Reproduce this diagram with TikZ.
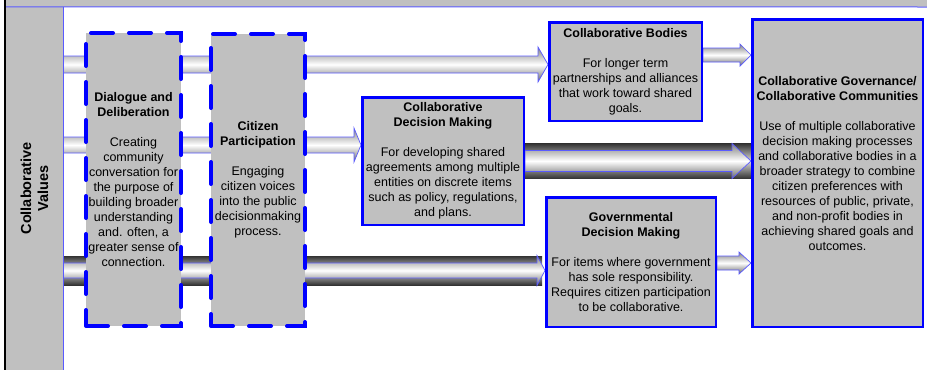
\documentclass[tikz,border=0pt]{standalone}
\usepackage{fontspec}
\setmainfont{Liberation Sans}
\usetikzlibrary{calc,backgrounds}
\definecolor{silver}{RGB}{192,192,192}
\definecolor{edge}{RGB}{0,0,255}
\definecolor{thinedge}{RGB}{90,90,255}
\tikzstyle{colbox}=[rectangle, fill=silver, draw=none, inner sep=0pt]
\tikzstyle{stagebox}=[rectangle, fill=silver, draw=edge, line width=4pt, dash pattern=on 22pt off 16pt, line cap=round, inner sep=0pt, align=center, font=\fontsize{12.5}{15}\selectfont]
\tikzstyle{outbox}=[rectangle, fill=silver, draw=edge, line width=2.5pt, inner sep=0pt, align=center, font=\fontsize{12.5}{15}\selectfont]
\tikzstyle{pipe}=[top color=black!50, bottom color=black!60, middle color=white, draw=thinedge, line width=0.7pt]
\tikzstyle{band}=[top color=black!80, bottom color=black!80, middle color=black!15]
% shaded fat arrow: style, from, to, half shaft, half head, head length
\newcommand{\fatarrow}[6]{%
  \path[#1] ($(#2)+(0,#4)$) -- ($(#3)+(-#6,#4)$) -- ($(#3)+(-#6,#5)$) -- (#3)
    -- ($(#3)+(-#6,-#5)$) -- ($(#3)+(-#6,-#4)$) -- ($(#2)+(0,-#4)$) -- cycle;}

\begin{document}
\begin{tikzpicture}[x=1pt,y=-1pt]
\useasboundingbox (0,0) rectangle (927,370);
%Frame
\fill[silver] (5,0) rectangle (927,7);
\node[colbox, minimum width=57pt, minimum height=363pt] (vals) at (34.5,188.5) {};
\node[rotate=90, align=center, font=\bfseries\fontsize{14.5}{17}\selectfont] (valtxt) at (vals.center) {Collaborative\\Values};
\draw[thinedge, line width=1pt] (vals.north west) -- (927,7);
\draw[thinedge, line width=1pt] (vals.north east) -- (vals.south east);
\draw[black, line width=2pt] (5,0) -- (5,370);

%Rows
\coordinate (r1) at (0,64.5);
\coordinate (r2) at (0,145);
\coordinate (r3) at (0,270.5);
\coordinate (r4) at (0,161);
\coordinate (r5) at (0,55);
\coordinate (r6) at (0,263);

%Stages
\node[stagebox, minimum width=95pt, minimum height=293pt] (dd) at (133.5,179.5) {\textbf{Dialogue and}\\\textbf{Deliberation}\\[15pt]Creating\\community\\conversation for\\the purpose of\\building broader\\understanding\\and. often, a\\greater sense of\\connection.};
\node[stagebox, minimum width=94pt, minimum height=292pt] (cp) at (258,180) {\textbf{Citizen}\\\textbf{Participation}\\[15pt]Engaging\\citizen voices\\into the public\\decisionmaking\\process.};

%Outcomes
\node[outbox, minimum width=152.5pt, minimum height=98.5pt] (cb) at (625.5,71.5) {\textbf{Collaborative Bodies}\\[15pt]For longer term\\partnerships and alliances\\that work toward shared\\goals.};
\node[outbox, minimum width=161.5pt, minimum height=127.5pt] (cdm) at (443,161) {\textbf{Collaborative}\\\textbf{Decision Making}\\[15pt]For developing shared\\agreements among multiple\\entities on discrete items\\such as policy, regulations,\\and plans.};
\node[outbox, minimum width=169.5pt, minimum height=129.5pt] (gdm) at (631,262) {\textbf{Governmental}\\\textbf{Decision Making}\\[15pt]For items where government\\has sole responsibility.\\Requires citizen participation\\to be collaborative.};
\node[outbox, minimum width=170.5pt, minimum height=307.5pt, text depth=19pt] (cg) at (837.5,173) {\textbf{Collaborative Governance/}\\\textbf{Collaborative Communities}\\[15pt]Use of multiple collaborative\\decision making processes\\and collaborative bodies in a\\broader strategy to combine\\citizen preferences with\\resources of public, private,\\and non-profit bodies in\\achieving shared goals and\\outcomes.};

%Arrows
\begin{scope}[on background layer]
\path[band] ($(vals.east |- r3)+(0,-14.5)$) rectangle ($(gdm.west |- r3)+(-3,14.5)$);
\path[band] ($(cdm.east |- r4)+(0,-17.5)$) rectangle ($(cg.west |- r4)+(0,17.5)$);
\fatarrow{pipe}{vals.east |- r1}{cb.west |- r1}{8.5}{17.5}{10}
\fatarrow{pipe}{vals.east |- r2}{cdm.west |- r2}{8}{17}{7}
\fatarrow{pipe}{vals.east |- r3}{gdm.west |- r3}{7.5}{15}{8}
\fatarrow{pipe}{cdm.east |- r4}{cg.west |- r4}{10.5}{17.5}{19}
\fatarrow{pipe}{cb.east |- r5}{cg.west |- r5}{7}{11}{11}
\fatarrow{pipe}{gdm.east |- r6}{cg.west |- r6}{7}{11}{12}
\end{scope}
\end{tikzpicture}
\end{document}
